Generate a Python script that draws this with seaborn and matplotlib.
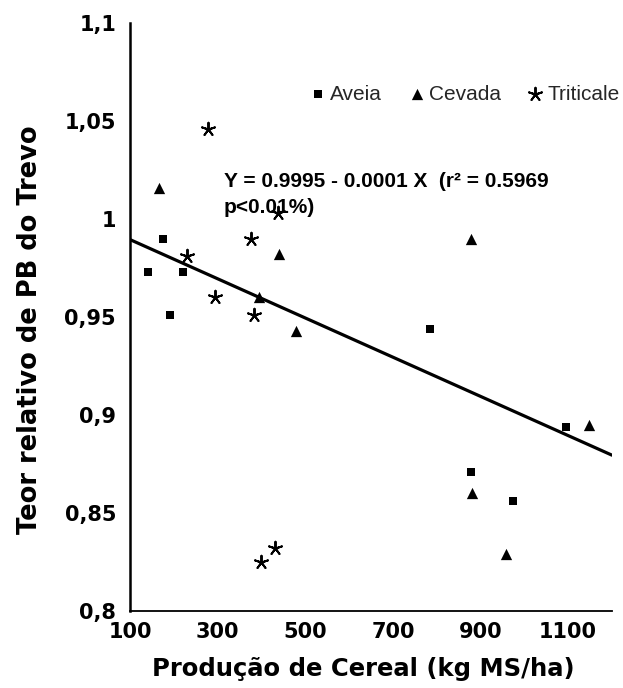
import numpy as np
import pandas as pd
import matplotlib
matplotlib.use("Agg")
import matplotlib.pyplot as plt
import seaborn as sns

# Cereal dry-matter yield (kg MS/ha) and relative clover crude-protein content
aveia_x = [142, 176, 221, 191, 784, 879, 974, 1095]
aveia_y = [0.973, 0.990, 0.973, 0.951, 0.944, 0.871, 0.856, 0.894]

cevada_x = [167, 395, 441, 479, 878, 880, 958, 1147]
cevada_y = [1.016, 0.960, 0.982, 0.943, 0.990, 0.860, 0.829, 0.895]

triticale_x = [277, 229, 375, 437, 293, 384, 398, 432]
triticale_y = [1.046, 0.981, 0.990, 1.003, 0.960, 0.951, 0.825, 0.832]

series_names = ["Aveia", "Cevada", "Triticale"]

# Fitted regression (all cereals pooled)
intercept = 0.9995
slope = -0.0001
r2 = 0.5969

x_ticks = [100, 300, 500, 700, 900, 1100]
y_ticks = [0.8, 0.85, 0.9, 0.95, 1.0, 1.05, 1.1]
y_tick_labels = ["0,8", "0,85", "0,9", "0,95", "1", "1,05", "1,1"]

df = pd.DataFrame({
    "x": aveia_x + cevada_x + triticale_x,
    "y": aveia_y + cevada_y + triticale_y,
    "Cereal": [series_names[0]] * len(aveia_x)
    + [series_names[1]] * len(cevada_x)
    + [series_names[2]] * len(triticale_x),
})

sns.set_theme(style="white")
plt.rcParams["font.family"] = ["DejaVu Sans"]

fig = plt.figure(figsize=(6.23, 6.88), dpi=100)
ax = fig.add_axes([130 / 623, 77 / 688, 482 / 623, 588 / 688])

# regression line over the full x range
line_x = np.array([100.0, 1200.0])
sns.lineplot(x=line_x, y=intercept + slope * line_x, color="black",
             linewidth=2.3, ax=ax, zorder=2)

styles = {
    "Aveia": dict(marker="s", s=34, linewidth=0),
    "Cevada": dict(marker="^", s=66, linewidth=0),
    "Triticale": dict(marker=(5, 2, 0), s=95, linewidth=1.4),
}
for name in series_names:
    sub = df[df["Cereal"] == name]
    sns.scatterplot(data=sub, x="x", y="y", color="black", label=name,
                    ax=ax, zorder=3, **styles[name])

ax.set_xlim(100, 1200)
ax.set_ylim(0.8, 1.1)
ax.set_xticks(x_ticks)
ax.set_xticklabels([str(v) for v in x_ticks])
ax.set_yticks(y_ticks)
ax.set_yticklabels(y_tick_labels)

for lab in ax.get_xticklabels() + ax.get_yticklabels():
    lab.set_fontweight("bold")
    lab.set_fontsize(15)
ax.tick_params(axis="both", direction="in", length=4, width=0.8,
               color="black", labelcolor="black")
ax.tick_params(axis="x", pad=8)
ax.tick_params(axis="y", pad=10)

sns.despine(ax=ax)
ax.spines["left"].set_linewidth(1.8)
ax.spines["bottom"].set_linewidth(1.3)
ax.spines["left"].set_color("black")
ax.spines["bottom"].set_color("black")

ax.set_xlabel("Produção de Cereal (kg MS/ha)", fontsize=17.5,
              fontweight="bold", color="black")
ax.set_ylabel("Teor relativo de PB do Trevo", fontsize=18.5,
              fontweight="bold", color="black")
ax.xaxis.set_label_coords(0.485, -0.078)
ax.yaxis.set_label_coords(-0.18, 0.478)

eq_font = dict(family=["Liberation Sans", "DejaVu Sans"], fontsize=15,
               fontweight="bold", color="black")
ax.text(0.195, 0.73,
        f"Y = {intercept:.4f} - {abs(slope):.4f} X  (r² = {r2:.4f}",
        transform=ax.transAxes, ha="left", va="center", **eq_font)
ax.text(0.195, 0.687, "p<0.01%)", transform=ax.transAxes,
        ha="left", va="center", **eq_font)

ax.legend(loc="center right", bbox_to_anchor=(1.017, 0.879), ncol=3,
          frameon=False, borderaxespad=0, borderpad=0,
          handletextpad=0.1, columnspacing=1.15, handlelength=1.0,
          prop=dict(family=["Liberation Sans", "DejaVu Sans"], size=15))

fig.savefig("out.png", dpi=100, facecolor="white")
